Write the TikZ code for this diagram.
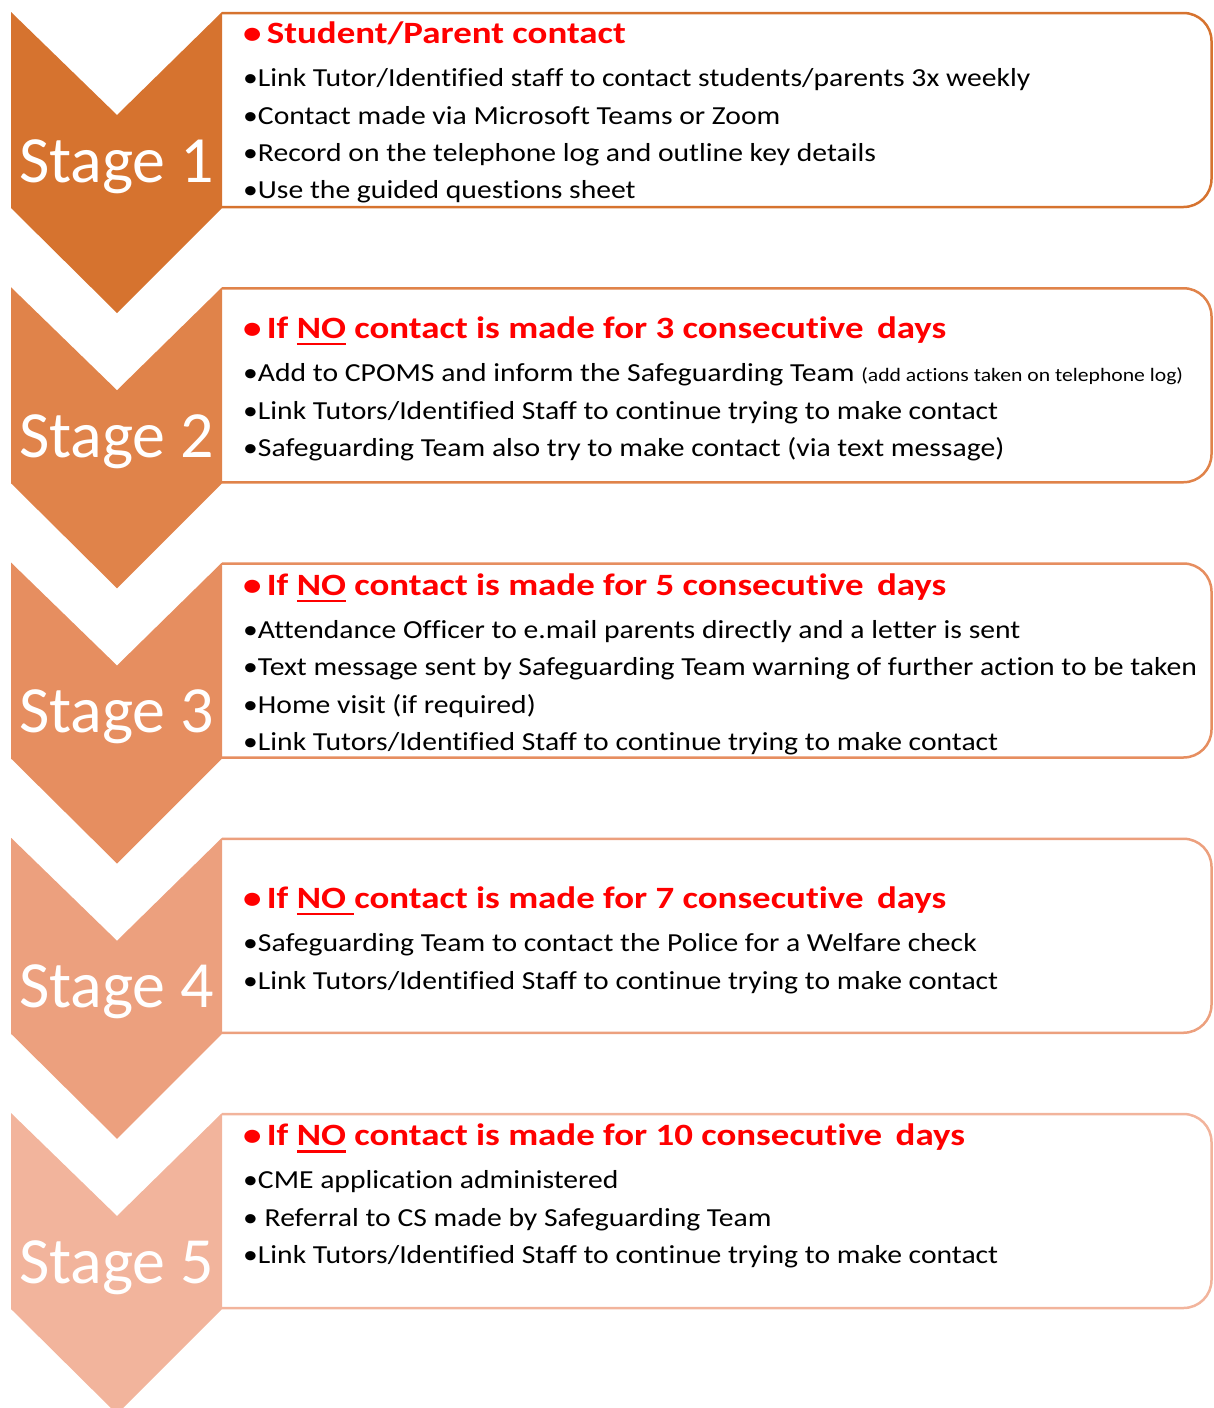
\documentclass[tikz,border=0pt]{standalone}
\usepackage{fontspec}
\setmainfont{Carlito}[Ligatures=NoCommon]
\newfontfamily\bodyfont{Carlito}[FakeStretch=1.14,Ligatures=NoCommon]
\newfontfamily\headfont{Carlito}[FakeStretch=1.19,Ligatures=NoCommon]
\definecolor{cA}{HTML}{D6732F}
\definecolor{cB}{HTML}{E0834A}
\definecolor{cC}{HTML}{E68E60}
\definecolor{cD}{HTML}{ECA07E}
\definecolor{cE}{HTML}{F2B49C}
\definecolor{hred}{HTML}{FF0000}
\newcommand\myul[1]{\setbox0\hbox{#1}\rlap{\color{hred}\rule[-7pt]{\wd0}{2.5pt}}\box0\relax}
\newcommand\hb{•\hspace{-3pt} }
\newcommand\stageshape[2]{%
  \begin{scope}[shift={(0,#1)}]
    \begin{scope}
      \clip (222,0) rectangle (1213,230);
      \draw[line width=2.5pt,#2,rounded corners=28pt] (150,13) rectangle (1211.5,207);
    \end{scope}
    \fill[#2] (11,12) -- (117,115) -- (222,12) -- (222,208) -- (117,313) -- (11,208) -- cycle;
  \end{scope}}
\tikzset{
  stagelbl/.style={anchor=base,text=white,font=\fontsize{66}{70}\selectfont,inner sep=0},
  head/.style={anchor=base west,text=hred,font=\headfont\fontsize{31}{34}\selectfont\bfseries,inner sep=0},
  body/.style={anchor=base west,text=black,font=\bodyfont\fontsize{26}{30}\selectfont,inner sep=0}
}
\begin{document}
\begin{tikzpicture}[x=1pt,y=-1pt]
\useasboundingbox (0,0) rectangle (1213,1408);
\stageshape{0}{cA}
\stageshape{275.25}{cB}
\stageshape{550.5}{cC}
\stageshape{825.75}{cD}
\stageshape{1101}{cE}
% labels
\node[stagelbl] (l1) at (116.5,182) {Stage 1};
\node[stagelbl] (l2) at (116.5,457.25) {Stage 2};
\node[stagelbl] (l3) at (116.5,732.5) {Stage 3};
\node[stagelbl] (l4) at (116.5,1007.75) {Stage 4};
\node[stagelbl] (l5) at (116.5,1283) {Stage 5};
% stage 1
\node[head] (h1) at (243,43) {\hb Student/Parent contact};
\node[body] (a1) at (243,86.7) {•Link Tutor/Identified staff to contact students/parents 3x weekly};
\node[body] (b1) at (243,124) {•Contact made via Microsoft Teams or Zoom};
\node[body] (c1) at (243,161) {•Record on the telephone log and outline key details};
\node[body] (d1) at (243,198.5) {•Use the guided questions sheet};
% stage 2
\node[head] (h2) at (243,338) {\hb If \myul{NO} contact is made for 3 consecutive\, days};
\node[body] (a2) at (243,381.5) {•Add to CPOMS and inform the Safeguarding Team {\fontsize{19}{21}\selectfont (add actions taken on telephone log)}};
\node[body] (b2) at (243,419) {•Link Tutors/Identified Staff to continue trying to make contact};
\node[body] (c2) at (243,456.5) {•Safeguarding Team also try to make contact (via text message)};
% stage 3
\node[head] (h3) at (243,595) {\hb If \myul{NO} contact is made for 5 consecutive\, days};
\node[body] (a3) at (243,638) {•Attendance Officer to e.mail parents directly and a letter is sent};
\node[body] (b3) at (243,675.5) {•Text message sent by Safeguarding Team warning of further action to be taken};
\node[body] (c3) at (243,713) {•Home visit (if required)};
\node[body] (d3) at (243,750.5) {•Link Tutors/Identified Staff to continue trying to make contact};
% stage 4
\node[head] (h4) at (243,908) {\hb If \myul{NO\ }contact is made for 7 consecutive\, days};
\node[body] (a4) at (243,951.5) {•Safeguarding Team to contact the Police for a Welfare check};
\node[body] (b4) at (243,989) {•Link Tutors/Identified Staff to continue trying to make contact};
% stage 5
\node[head] (h5) at (243,1145.5) {\hb If \myul{NO} contact is made for 10 consecutive\, days};
\node[body] (a5) at (243,1188.5) {•CME application administered};
\node[body] (b5) at (243,1226) {• Referral to CS made by Safeguarding Team};
\node[body] (c5) at (243,1263.5) {•Link Tutors/Identified Staff to continue trying to make contact};
\end{tikzpicture}
\end{document}
